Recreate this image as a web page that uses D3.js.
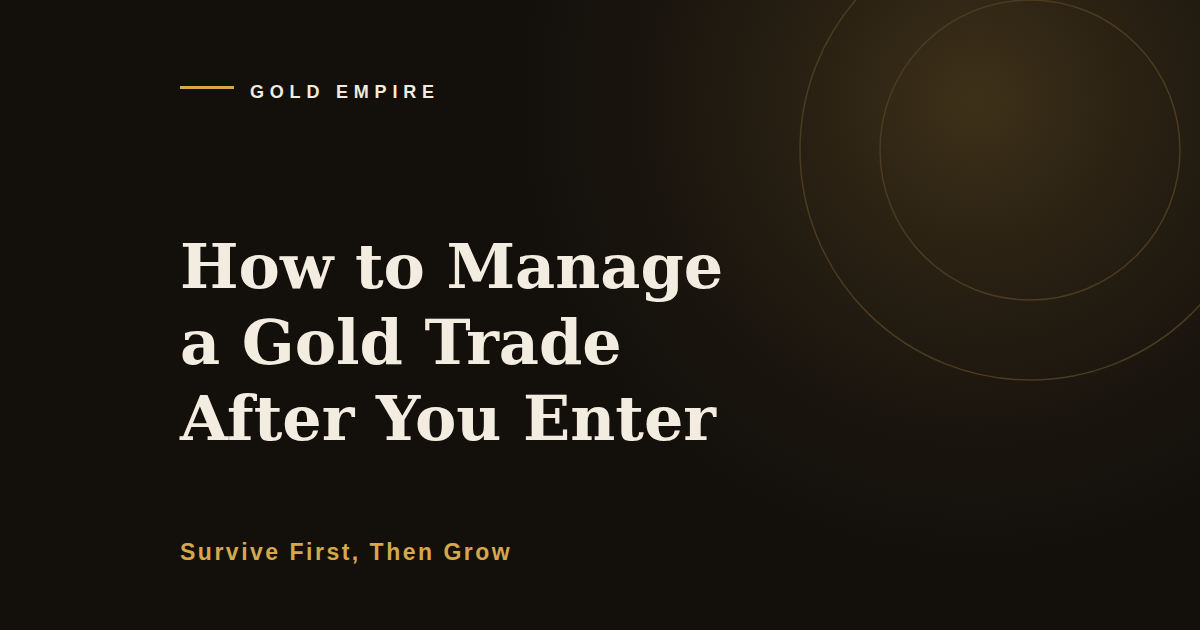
<!DOCTYPE html>
<html>
<head>
<meta charset="utf-8">
<script src="https://cdn.jsdelivr.net/npm/d3@7"></script>
<style>
  html, body { margin: 0; padding: 0; background: #13100b; }
  svg { display: block; }
</style>
</head>
<body>
<svg width="1200" height="630"></svg>
<script>
var brand = "GOLD EMPIRE";
var titleLines = ["How to Manage", "a Gold Trade", "After You Enter"];
var subtitle = "Survive First, Then Grow";
var ringRadii = [150, 230];

function createCard() {
  var svg = d3.select("svg");

  var defs = svg.append("defs");
  var glow = defs.append("radialGradient")
    .attr("id", "glow")
    .attr("gradientUnits", "userSpaceOnUse")
    .attr("cx", 975)
    .attr("cy", 100)
    .attr("r", 460);
  glow.append("stop").attr("offset", "0%").attr("stop-color", "#3e3119");
  glow.append("stop").attr("offset", "35%").attr("stop-color", "#2a2113");
  glow.append("stop").attr("offset", "70%").attr("stop-color", "#1a150e");
  glow.append("stop").attr("offset", "100%").attr("stop-color", "#13100b");

  svg.append("rect")
    .attr("width", 1200)
    .attr("height", 630)
    .attr("fill", "url(#glow)");

  // rings top right
  svg.append("g")
    .attr("class", "rings")
    .selectAll("circle")
    .data(ringRadii)
    .enter()
    .append("circle")
      .attr("cx", 1030)
      .attr("cy", 150)
      .attr("r", function(d) { return d; })
      .attr("fill", "none")
      .attr("stroke", "#4a3c20")
      .attr("stroke-width", 1.5);

  // brand line + label
  svg.append("rect")
    .attr("x", 180)
    .attr("y", 86)
    .attr("width", 54)
    .attr("height", 3)
    .attr("fill", "#d4a84b");

  svg.append("text")
    .attr("x", 250)
    .attr("y", 98)
    .attr("fill", "#f2ebdf")
    .style("font-family", "'Liberation Sans', Arial, sans-serif")
    .style("font-weight", "bold")
    .style("font-size", "18px")
    .style("letter-spacing", "5.8px")
    .text(brand);

  // title
  svg.append("g")
    .attr("class", "title")
    .selectAll("text")
    .data(titleLines)
    .enter()
    .append("text")
      .attr("x", 180)
      .attr("y", function(d, i) { return 288 + i * 76; })
      .attr("fill", "#f3ece0")
      .style("font-family", "'DejaVu Serif', serif")
      .style("font-weight", "bold")
      .style("font-size", "62px")
      .text(function(d) { return d; });

  svg.append("text")
    .attr("x", 180)
    .attr("y", 559.5)
    .attr("fill", "#d4a84b")
    .style("font-family", "'Liberation Sans', Arial, sans-serif")
    .style("font-weight", "bold")
    .style("font-size", "23px")
    .style("letter-spacing", "2.5px")
    .text(subtitle);
}

createCard();
</script>
</body>
</html>
